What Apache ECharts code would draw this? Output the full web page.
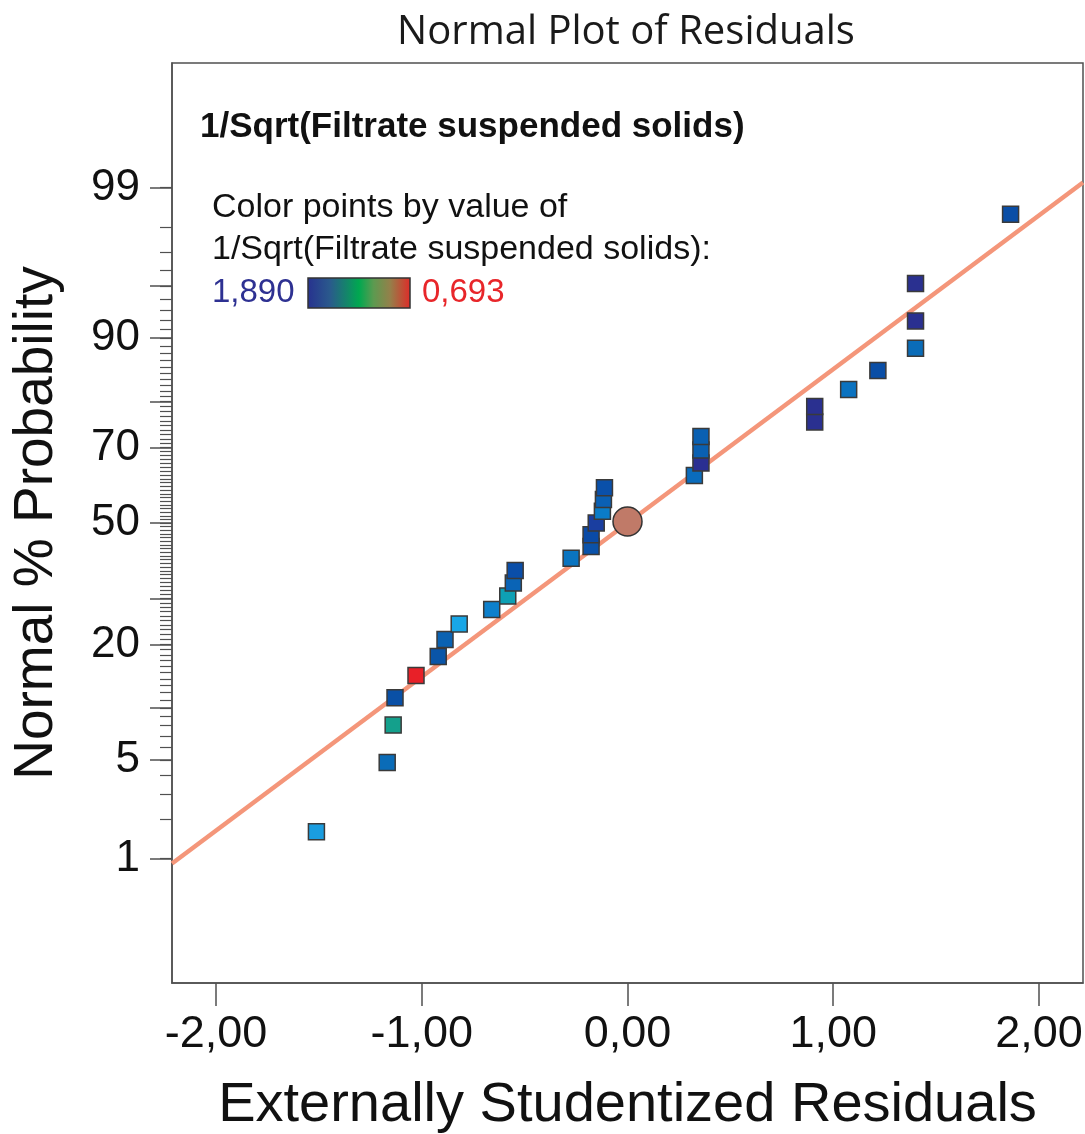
<!DOCTYPE html>
<html>
<head>
<meta charset="utf-8">
<title>Normal Plot of Residuals</title>
<script src="https://cdn.jsdelivr.net/npm/echarts@6/dist/echarts.min.js"></script>
<style>
  html, body { margin: 0; padding: 0; background: #ffffff; }
  #chart { width: 1085px; height: 1134px; }
</style>
</head>
<body>
<div id="chart"></div>
<script>
// ---------------- data ----------------
// Externally studentized residuals (x) of the 31 runs, in plotting order
const RESIDUALS = [
  -1.512, -1.168, -1.139, -1.130, -1.028, -0.920, -0.887, -0.818,
  -0.660, -0.582, -0.555, -0.546, -0.274, -0.177, -0.177, -0.152,
  -0.122, -0.117, -0.112, 0.325, 0.357, 0.357, 0.357, 0.910,
  0.910, 1.075, 1.217, 1.400, 1.400, 1.400, 1.862
];
// Normal % probability of each run (y)
const PROBABILITIES = [
  1.61, 4.84, 8.06, 11.29, 14.52, 17.74, 20.97, 24.19,
  27.42, 30.65, 33.87, 37.10, 40.32, 43.55, 46.77, 50.00,
  53.23, 56.45, 59.68, 62.90, 66.13, 69.35, 72.58, 75.81,
  79.03, 82.26, 85.48, 88.71, 91.94, 95.16, 98.39
];
// colour of each run (coloured by value of 1/Sqrt(Filtrate suspended solids))
const POINT_COLORS = [
  '#1a9de0', '#0a6cb8', '#14a08c', '#0a50a6', '#e82028', '#0a55a8', '#0a62b2', '#18a6e6',
  '#0d80cc', '#0ea0b4', '#0a64b6', '#0a4ea8', '#0a74c0', '#0a52aa', '#0a4aa6', '#1a3ea0',
  '#0a7cc8', '#0a60b4', '#0a50aa', '#0a6cbc', '#2a2f92', '#0a60b2', '#0a60b2', '#2a3090',
  '#2a3090', '#0a72c0', '#0a4ea6', '#0a6cb8', '#2a3090', '#2a3090', '#0a4ea6'
];
// highlighted (circle) point
const CIRCLE_RESIDUAL = [0.00];
const CIRCLE_PROBABILITY = [50.4];
// reference line (end points)
const LINE_RESIDUALS = [-2.214, 2.214];
const LINE_PROBABILITIES = [0.91, 99.09];

// axis ticks / labels
const X_TICKS = [-2, -1, 0, 1, 2];
const Y_LABELS = [1, 5, 20, 50, 70, 90, 99];
const Y_MAJOR_TICKS = [1, 5, 10, 20, 30, 50, 70, 80, 90, 95, 99];
const Y_MINOR_TICKS = [];
for (let p = 1; p <= 99; p++) Y_MINOR_TICKS.push(p);

const TITLE = 'Normal Plot of Residuals';
const X_NAME = 'Externally Studentized Residuals';
const Y_NAME = 'Normal % Probability';
const RESPONSE = '1/Sqrt(Filtrate suspended solids)';
const COLOR_HIGH = '1,890';
const COLOR_LOW = '0,693';

// ---------------- probit (inverse normal CDF) ----------------
function probit(p) {
  const a = [-3.969683028665376e+01, 2.209460984245205e+02, -2.759285104469687e+02,
             1.383577518672690e+02, -3.066479806614716e+01, 2.506628277459239e+00];
  const b = [-5.447609879822406e+01, 1.615858368580409e+02, -1.556989798598866e+02,
             6.680131188771972e+01, -1.328068155288572e+01];
  const c = [-7.784894002430293e-03, -3.223964580411365e-01, -2.400758277161838e+00,
             -2.549732539343734e+00, 4.374664141464968e+00, 2.938163982698783e+00];
  const d = [7.784695709041462e-03, 3.224671290700398e-01, 2.445134137142996e+00,
             3.754408661907416e+00];
  const pl = 0.02425, ph = 1 - pl;
  let q, r;
  if (p < pl) {
    q = Math.sqrt(-2 * Math.log(p));
    return (((((c[0]*q+c[1])*q+c[2])*q+c[3])*q+c[4])*q+c[5]) / ((((d[0]*q+d[1])*q+d[2])*q+d[3])*q+1);
  }
  if (p <= ph) {
    q = p - 0.5; r = q * q;
    return (((((a[0]*r+a[1])*r+a[2])*r+a[3])*r+a[4])*r+a[5])*q / (((((b[0]*r+b[1])*r+b[2])*r+b[3])*r+b[4])*r+1);
  }
  q = Math.sqrt(-2 * Math.log(1 - p));
  return -(((((c[0]*q+c[1])*q+c[2])*q+c[3])*q+c[4])*q+c[5]) / ((((d[0]*q+d[1])*q+d[2])*q+d[3])*q+1);
}
const z = (pct) => probit(pct / 100);

// ---------------- chart ----------------
const FONT = "'Liberation Sans', Arial, sans-serif";
const AXIS_COLOR = '#505050';
const Y_RANGE = 3.19;

const pointData = RESIDUALS.map((x, i) => ({
  value: [x, z(PROBABILITIES[i])],
  itemStyle: { color: POINT_COLORS[i] }
}));
const circleData = CIRCLE_RESIDUAL.map((x, i) => [x, z(CIRCLE_PROBABILITY[i])]);
const lineData = LINE_RESIDUALS.map((x, i) => [x, z(LINE_PROBABILITIES[i])]);

const chart = echarts.init(document.getElementById('chart'), null, { renderer: 'canvas' });

chart.setOption({
  animation: false,
  backgroundColor: '#ffffff',
  grid: {
    left: 172, right: 2, top: 63, bottom: 151,
    containLabel: false,
    outerBoundsMode: 'none',
    show: true, borderColor: AXIS_COLOR, borderWidth: 1.5, backgroundColor: 'transparent'
  },
  xAxis: {
    type: 'value',
    min: -2.214, max: 2.214,
    name: X_NAME,
    nameLocation: 'middle',
    nameGap: 95,
    nameTextStyle: { fontFamily: FONT, fontSize: 56, color: '#111' },
    axisLine: { show: true, onZero: false, lineStyle: { color: AXIS_COLOR, width: 1.5 } },
    axisTick: { show: true, inside: false, length: 23, customValues: X_TICKS, lineStyle: { color: AXIS_COLOR, width: 1.5 } },
    axisLabel: {
      show: true, margin: 29, customValues: X_TICKS,
      fontFamily: FONT, fontSize: 45, color: '#111',
      formatter: (v) => v.toFixed(2).replace('.', ',')
    },
    splitLine: { show: false }
  },
  yAxis: [
    {
      type: 'value',
      min: -Y_RANGE, max: Y_RANGE,
      name: Y_NAME,
      nameLocation: 'middle',
      nameGap: 108,
      nameTextStyle: { fontFamily: FONT, fontSize: 55, color: '#111' },
      axisLine: { show: true, onZero: false, lineStyle: { color: AXIS_COLOR, width: 1.5 } },
      axisTick: { show: true, inside: false, length: 22, customValues: Y_MAJOR_TICKS.map(z), lineStyle: { color: AXIS_COLOR, width: 1.5 } },
      axisLabel: {
        show: true, margin: 32, customValues: Y_LABELS.map(z),
        fontFamily: FONT, fontSize: 44, color: '#111',
        formatter: (v) => {
          for (const l of Y_LABELS) if (Math.abs(z(l) - v) < 1e-6) return String(l);
          return '';
        }
      },
      splitLine: { show: false }
    },
    {
      type: 'value',
      position: 'left',
      min: -Y_RANGE, max: Y_RANGE,
      axisLine: { show: false, onZero: false },
      axisTick: { show: true, inside: false, length: 12, customValues: Y_MINOR_TICKS.map(z), lineStyle: { color: AXIS_COLOR, width: 1.2 } },
      axisLabel: { show: false },
      splitLine: { show: false }
    }
  ],
  series: [
    {
      type: 'line',
      xAxisIndex: 0, yAxisIndex: 0,
      data: lineData,
      symbol: 'none',
      lineStyle: { color: '#f4967a', width: 4.5 },
      z: 2,
      silent: true
    },
    {
      type: 'scatter',
      xAxisIndex: 0, yAxisIndex: 0,
      data: pointData,
      symbol: 'rect',
      symbolSize: 16,
      itemStyle: { borderColor: '#3a3a3a', borderWidth: 1.5, opacity: 1 },
      z: 3
    },
    {
      type: 'scatter',
      xAxisIndex: 0, yAxisIndex: 0,
      data: circleData,
      symbol: 'circle',
      symbolSize: 29,
      itemStyle: { color: '#c07a68', borderColor: '#333333', borderWidth: 1.5, opacity: 1 },
      z: 4
    }
  ],
  graphic: [
    {
      type: 'text', x: 626, y: 33,
      style: { text: TITLE, fontFamily: "'Open Sans', 'Noto Sans', sans-serif", fontSize: 40, fill: '#1a1a1a', textAlign: 'center', textVerticalAlign: 'middle' }
    },
    {
      type: 'text', x: 200, y: 127,
      style: { text: RESPONSE, fontFamily: FONT, fontWeight: 'bold', fontSize: 35, fill: '#111', textAlign: 'left', textVerticalAlign: 'middle' }
    },
    {
      type: 'text', x: 212, y: 208,
      style: { text: 'Color points by value of', fontFamily: FONT, fontSize: 34, fill: '#111', textAlign: 'left', textVerticalAlign: 'middle' }
    },
    {
      type: 'text', x: 212, y: 250,
      style: { text: RESPONSE + ':', fontFamily: FONT, fontSize: 34, fill: '#111', textAlign: 'left', textVerticalAlign: 'middle' }
    },
    {
      type: 'text', x: 212, y: 293,
      style: { text: COLOR_HIGH, fontFamily: FONT, fontSize: 33, fill: '#2e3192', textAlign: 'left', textVerticalAlign: 'middle' }
    },
    {
      type: 'rect',
      shape: { x: 308, y: 278, width: 102, height: 30 },
      style: {
        fill: new echarts.graphic.LinearGradient(0, 0, 1, 0, [
          { offset: 0, color: '#27318f' },
          { offset: 0.22, color: '#2a5a8c' },
          { offset: 0.38, color: '#14856a' },
          { offset: 0.5, color: '#00a850' },
          { offset: 0.64, color: '#5c9a50' },
          { offset: 0.8, color: '#94804a' },
          { offset: 1, color: '#e02a28' }
        ]),
        stroke: '#333333', lineWidth: 1.5
      }
    },
    {
      type: 'text', x: 422, y: 293,
      style: { text: COLOR_LOW, fontFamily: FONT, fontSize: 33, fill: '#e8262a', textAlign: 'left', textVerticalAlign: 'middle' }
    }
  ]
});
</script>
</body>
</html>
